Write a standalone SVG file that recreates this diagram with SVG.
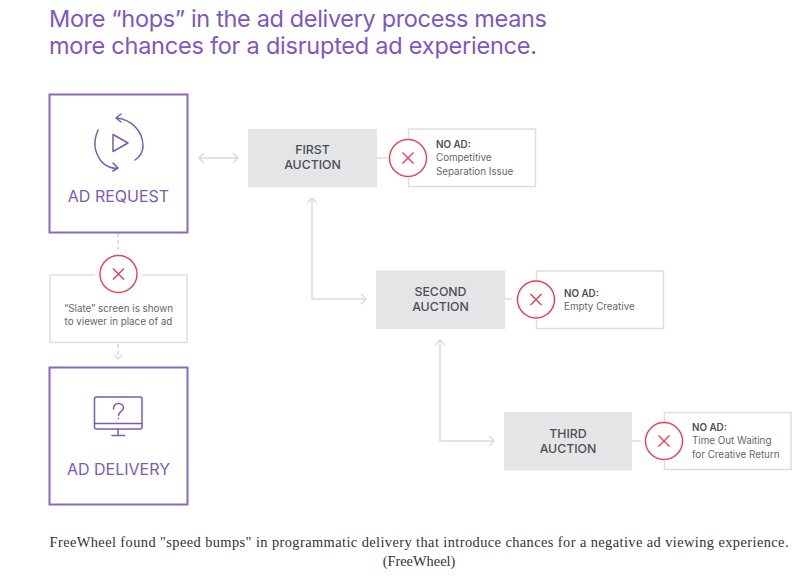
<svg xmlns="http://www.w3.org/2000/svg" width="809" height="580" viewBox="0 0 809 580">
  <style>
    text { font-family: "Inter", "Roboto", "Liberation Sans", sans-serif; }
    .title { font-size: 23.5px; fill: #7e57c2; }
    .head { font-size: 16px; fill: #7a5cb4; text-anchor: middle; }
    .auct { font-size: 12.3px; font-weight: 500; fill: #4d4f55; text-anchor: middle; }
    .note { font-size: 9.8px; fill: #63666c; }
    .noad { font-weight: 600; fill: #4d4f55; }
    .cap { font-family: "Liberation Serif", serif; font-size: 14.4px; fill: #333; text-anchor: middle; }
    .frame { fill: #fff; stroke: #8a68bd; stroke-width: 2; }
    .icon { fill: none; stroke: #7a5cb4; stroke-width: 1.5; stroke-linecap: round; stroke-linejoin: round; }
    .box { fill: #e4e5e7; }
    .line { fill: none; stroke: #dcdcdc; stroke-width: 1.5; }
    .dash { fill: none; stroke: #d6d6d6; stroke-width: 1.5; stroke-dasharray: 4 3; }
    .panel { fill: none; stroke: #dedede; stroke-width: 1.5; }
    .bad { fill: #fff; stroke: #ec3e4c; stroke-width: 1.4; }
    .cross { fill: none; stroke: #ec3e4c; stroke-width: 1.4; }
  </style>
  <rect width="809" height="580" fill="#fff"/>

  <text class="title" x="49" y="27" textLength="498">More “hops” in the ad delivery process means</text>
  <text class="title" x="49" y="54" textLength="488">more chances for a disrupted ad experience.</text>

  <g id="connectors">
    <path class="line" d="M199 158H238M204 153L199 158L204 163M233 153L238 158L233 163"/>
    <path class="line" d="M312 198V299H366M307 203L312 198L317 203M361 294L366 299L361 304"/>
    <path class="line" d="M440 340V441H494M435 345L440 340L445 345M489 436L494 441L489 446"/>
    <path class="dash" d="M118 233V250"/>
    <path class="dash" d="M118 344V358"/>
    <path class="line" d="M114 355L118 359L122 355"/>
    <path class="line" d="M377 158H387"/>
    <path class="line" d="M505 299H512"/>
    <path class="line" d="M632 441H641"/>
  </g>

  <g id="ad-request">
    <rect class="frame" x="49.500" y="94.500" width="138" height="138"/>
    <path class="icon" d="M116 118C131 119 143 131 143 146C143 151 141 156 135 160M116 118L121 114M116 118L121 122"/>
    <path class="icon" d="M98 130C93 142 94 151 101 161C105 166 112 169 118 168M118 168L113 163M118 168L113 171"/>
    <path class="icon" d="M113 134.500L128 143L113 151.500Z"/>
    <text class="head" x="118.500" y="202">AD REQUEST</text>
  </g>

  <g id="slate-screen">
    <path class="panel" d="M95 275H50V342.500H187V275H142"/>
    <circle class="bad" cx="118.500" cy="274" r="18.500"/>
    <path class="cross" d="M113 268.500L124 279.500M124 268.500L113 279.500"/>
    <text class="note" x="118.500" y="312" text-anchor="middle">“Slate” screen is shown</text>
    <text class="note" x="118.500" y="325" text-anchor="middle">to viewer in place of ad</text>
  </g>

  <g id="ad-delivery">
    <rect class="frame" x="49.500" y="367.500" width="138" height="137"/>
    <rect class="icon" x="94.500" y="397" width="47.500" height="32" rx="2"/>
    <path class="icon" d="M94.500 423.500H142M118 429V435.500M112 435.500H124.500"/>
    <path class="icon" d="M113.500 409C113.500 405.500 115.500 403.500 118.500 403.500C121.500 403.500 123.500 405.500 123.500 408C123.500 411.500 118.500 411.500 118.500 415.500M118.500 418.500V418.800"/>
    <text class="head" x="118.500" y="475">AD DELIVERY</text>
  </g>

  <g id="first-auction">
    <rect class="box" x="248" y="129" width="129" height="58.500"/>
    <text class="auct" x="312.500" y="154">FIRST</text>
    <text class="auct" x="312.500" y="169">AUCTION</text>
  </g>
  <g id="first-no-ad">
    <path class="panel" d="M408.500 138V129H535.500V186.500H408.500V178"/>
    <circle class="bad" cx="408" cy="158" r="18.500"/>
    <path class="cross" d="M402.500 152.500L413.500 163.500M413.500 152.500L402.500 163.500"/>
    <text class="note noad" x="436" y="148">NO AD:</text>
    <text class="note" x="436" y="161">Competitive</text>
    <text class="note" x="436" y="174.500">Separation Issue</text>
  </g>

  <g id="second-auction">
    <rect class="box" x="376" y="270.500" width="129" height="58.500"/>
    <text class="auct" x="440.500" y="296">SECOND</text>
    <text class="auct" x="440.500" y="311">AUCTION</text>
  </g>
  <g id="second-no-ad">
    <path class="panel" d="M536.500 280V271H663.500V328.500H536.500V320"/>
    <circle class="bad" cx="536" cy="299.500" r="18.500"/>
    <path class="cross" d="M530.500 294L541.500 305M541.500 294L530.500 305"/>
    <text class="note noad" x="564" y="297">NO AD:</text>
    <text class="note" x="564" y="309.500">Empty Creative</text>
  </g>

  <g id="third-auction">
    <rect class="box" x="504" y="412" width="128" height="58.500"/>
    <text class="auct" x="568" y="438">THIRD</text>
    <text class="auct" x="568" y="453">AUCTION</text>
  </g>
  <g id="third-no-ad">
    <path class="panel" d="M664.500 422V412.500H791V469.500H664.500V461"/>
    <circle class="bad" cx="664" cy="441" r="18.500"/>
    <path class="cross" d="M658.500 435.500L669.500 446.500M669.500 435.500L658.500 446.500"/>
    <text class="note noad" x="692" y="431">NO AD:</text>
    <text class="note" x="692" y="444">Time Out Waiting</text>
    <text class="note" x="692" y="458">for Creative Return</text>
  </g>

  <text class="cap" x="419" y="547" textLength="739">FreeWheel found "speed bumps" in programmatic delivery that introduce chances for a negative ad viewing experience.</text>
  <text class="cap" x="419" y="566">(FreeWheel)</text>
</svg>
